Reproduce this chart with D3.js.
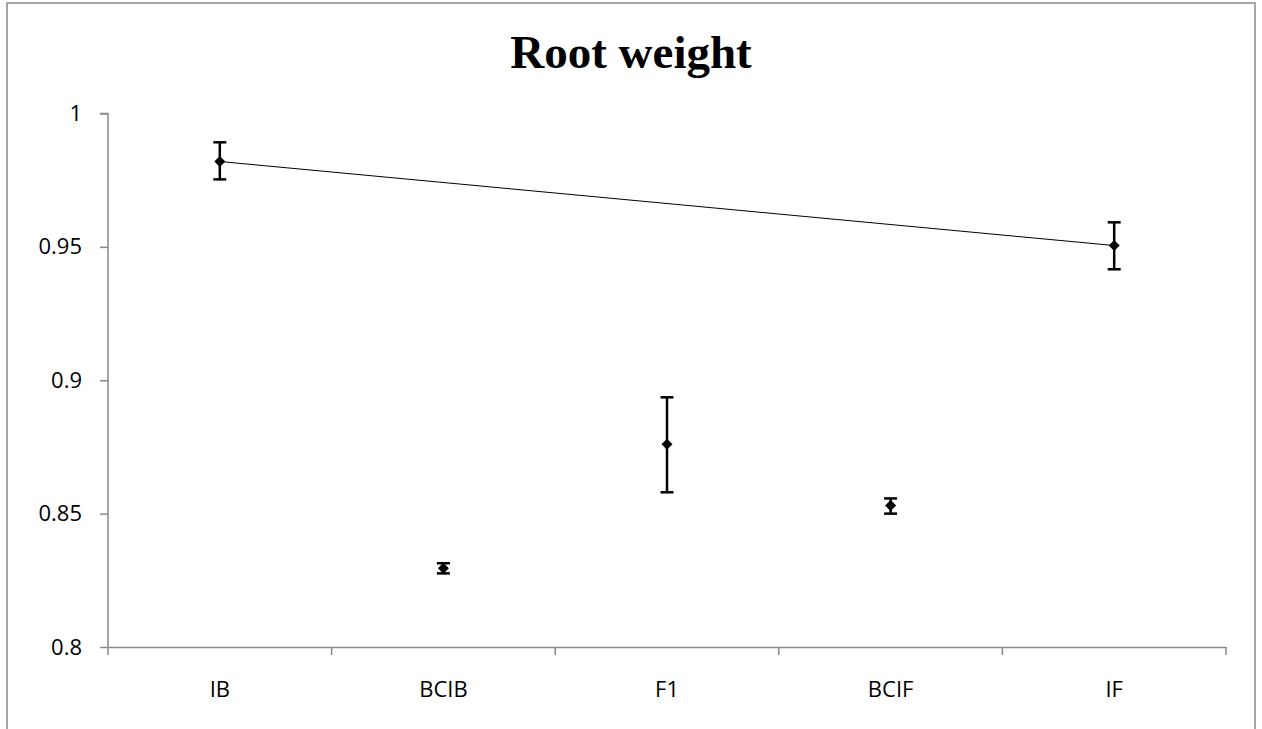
<!DOCTYPE html>
<html><head><meta charset="utf-8">
<script src="https://cdn.jsdelivr.net/npm/d3@7"></script>
<style>
html,body{margin:0;padding:0;background:#fff;}
svg{display:block;}
</style></head>
<body>
<script>
const categories = ["IB","BCIB","F1","BCIF","IF"];
const means = [0.982, 0.8295, 0.876, 0.853, 0.9505];
const errLow = [0.9753, 0.8276, 0.858, 0.8500, 0.9416];
const errHigh = [0.9892, 0.8314, 0.8936, 0.8557, 0.9592];
const lineCats = ["IB","IF"];
const yTicks = [0.8, 0.85, 0.9, 0.95, 1];
const title = "Root weight";

const W = 1262, H = 729;
const svg = d3.select("body").append("svg").attr("width", W).attr("height", H);

svg.append("rect").attr("x",7).attr("y",3).attr("width",1248).attr("height",760)
  .attr("fill","#fff").attr("stroke","#888").attr("stroke-width",1.5);

const x = d3.scaleBand().domain(categories).range([108, 1226]);
const y = d3.scaleLinear().domain([0.8, 1]).range([647, 113.5]);

svg.append("text").attr("x", 631).attr("y", 68).attr("text-anchor","middle")
  .attr("font-family","'Liberation Serif','Times New Roman',serif")
  .attr("font-weight","bold").attr("font-size",47).attr("fill","#000").text(title);

const axisColor = "#888";
const yAxis = svg.append("g").attr("transform","translate(108,0)")
  .call(d3.axisLeft(y).tickValues(yTicks).tickSize(8).tickPadding(18)
    .tickFormat(d => d3.format("")(+d.toFixed(2))));
const xAxis = svg.append("g").attr("transform","translate(0,647)")
  .call(d3.axisBottom(x).tickSize(0).tickPadding(34));
[yAxis, xAxis].forEach(g => {
  g.attr("font-size", null).attr("font-family", null);
  g.select(".domain").attr("stroke", axisColor).attr("stroke-width",1.5);
  g.selectAll(".tick line").attr("stroke", axisColor).attr("stroke-width",1.5);
  g.selectAll("text").attr("font-family","'Open Sans','Noto Sans',sans-serif")
    .attr("font-size",22).attr("fill","#000");
});
yAxis.select(".domain").attr("d", "M0,647V113.5H-8");
// x ticks at band boundaries
const bounds = categories.map(c => x(c)).concat([x.range()[1]]);
svg.append("g").selectAll("line").data(bounds).join("line")
  .attr("x1", d => d).attr("x2", d => d).attr("y1", 647).attr("y2", 655)
  .attr("stroke", axisColor).attr("stroke-width",1.5);

const cx = c => x(c) + x.bandwidth()/2;

// connecting line
svg.append("path")
  .datum(lineCats.map(c => [cx(c), y(means[categories.indexOf(c)])]))
  .attr("d", d3.line()).attr("fill","none").attr("stroke","#000").attr("stroke-width",1);

// error bars
const g = svg.append("g");
categories.forEach((c,i) => {
  const xx = cx(c);
  g.append("line").attr("x1",xx).attr("x2",xx).attr("y1",y(errLow[i])).attr("y2",y(errHigh[i]))
    .attr("stroke","#000").attr("stroke-width",2.5);
  [errLow[i], errHigh[i]].forEach(v => {
    g.append("line").attr("x1",xx-6.5).attr("x2",xx+6.5).attr("y1",y(v)).attr("y2",y(v))
      .attr("stroke","#000").attr("stroke-width",2.5);
  });
});

// markers
svg.append("g").selectAll("path").data(categories).join("path")
  .attr("transform", (c,i) => `translate(${cx(c)},${y(means[i])})`)
  .attr("d", "M0,-5.5L5.5,0L0,5.5L-5.5,0Z").attr("fill","#000");
</script>
</body></html>
